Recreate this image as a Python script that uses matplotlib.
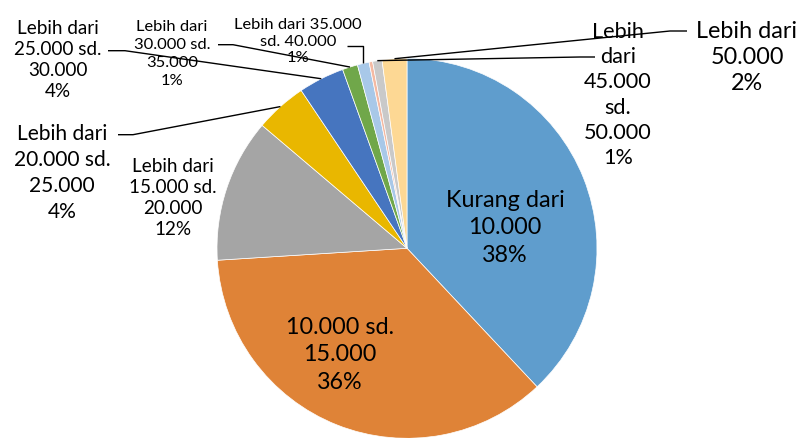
import matplotlib
matplotlib.use("Agg")
import matplotlib.pyplot as plt
import numpy as np

plt.rcParams['font.family'] = ['Lato', 'DejaVu Sans']

# ---- data ----
categories = [
    "Kurang dari\n10.000",
    "10.000 sd.\n15.000",
    "Lebih dari\n15.000 sd.\n20.000",
    "Lebih dari\n20.000 sd.\n25.000",
    "Lebih dari\n25.000 sd.\n30.000",
    "Lebih dari\n30.000 sd.\n35.000",
    "Lebih dari 35.000\nsd. 40.000",
    "Lebih dari\n40.000 sd.\n45.000",
    "Lebih\ndari\n45.000\nsd.\n50.000",
    "Lebih dari\n50.000",
]
shares = [38.0, 36.0, 12.2, 4.4, 3.9, 1.3, 1.0, 0.3, 0.8, 2.1]
pct_labels = ["38%", "36%", "12%", "4%", "4%", "1%", "1%", "0%", "1%", "2%"]
show_label = [True, True, True, True, True, True, True, False, True, True]

colors = ["#5F9DCD", "#DF8337", "#A5A5A5", "#E9B700", "#4675BF",
          "#70A74A", "#A8C8E8", "#F4B9A2", "#C9C9C9", "#FDD894"]

# ---- layout (pixel coordinates, y measured from top) ----
W, H = 804, 439
CX, CY, R = 407, 249.3, 190
# x, y, font px, line spacing px, leader knee points (from label side)
layout = [
    (505, 228, 26, 32, None),
    (340, 355, 26, 32.5, None),
    (173, 198, 21, 24.3, None),
    (62, 173, 23.4, 28.7, [(118, 135.7), (133, 135.7)]),
    (57.5, 60, 21, 24.7, [(108, 51.7), (125, 51.7)]),
    (172, 54, 18.3, 22, [(218, 45.7), (233, 45.7)]),
    (298, 41.5, 18.3, 20.8, [(347, 46.7), "vert"]),
    (0, 0, 18, 20, None),
    (618, 95, 24, 28.5, [(595, 58), (580, 58)]),
    (747, 57.5, 26, 30.8, [(687, 32), (670, 32)]),
]
KF = 0.9  # Lato is wider than the original font

fig = plt.figure(figsize=(W / 100, H / 100), dpi=100)
ax = fig.add_axes([0, 0, 1, 1])
wedges, _ = ax.pie(shares, colors=colors, startangle=90, counterclock=False,
                   center=(CX, H - CY), radius=R,
                   wedgeprops=dict(edgecolor="white", linewidth=0.5))
ax.set_xlim(0, W)
ax.set_ylim(0, H)
ax.set_aspect("equal")
ax.axis("off")

for i, (w, cat, pct) in enumerate(zip(wedges, categories, pct_labels)):
    if not show_label[i]:
        continue
    x, y, fpx, spx, leader = layout[i]
    fs = fpx * KF * 0.72
    ax.text(x, H - y, cat + "\n" + pct, ha="center", va="center",
            multialignment="center", fontsize=fs,
            linespacing=spx / (fpx * KF), color="black")
    if leader:
        mid = np.deg2rad((w.theta1 + w.theta2) / 2)
        px = CX + R * np.cos(mid)
        py = (H - CY) + R * np.sin(mid)
        (x0, y0) = leader[0]
        if leader[1] == "vert":
            xs = [x0, px, px]
            ys = [H - y0, H - y0, py]
        else:
            (x1, y1) = leader[1]
            xs = [x0, x1, px]
            ys = [H - y0, H - y1, py]
        ax.plot(xs, ys, color="black", lw=1.0, solid_capstyle="butt")

fig.savefig("out.png", dpi=100)
